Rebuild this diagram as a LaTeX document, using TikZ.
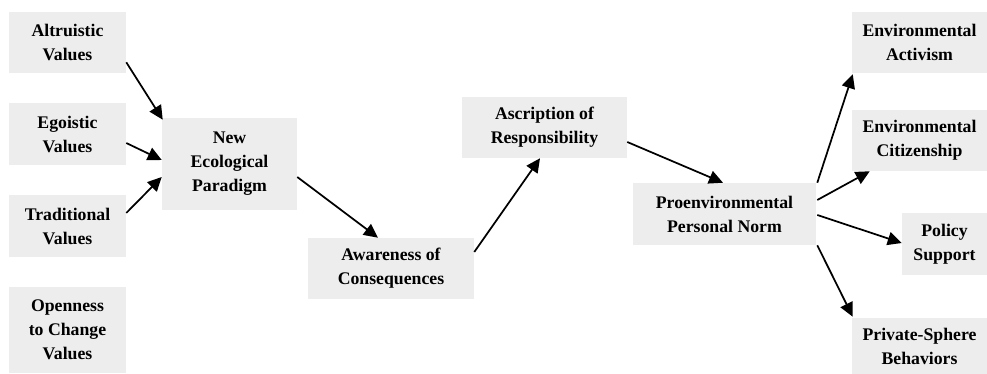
\documentclass[tikz,border=0pt]{standalone}
\usepackage{fontspec}
\setmainfont{Liberation Serif}
\usetikzlibrary{calc,arrows.meta}
\begin{document}
\begin{tikzpicture}[x=0.75pt,y=-0.75pt,
  box/.style={fill=boxgray,draw=none,inner sep=0pt,align=center,
    font=\fontsize{13.3}{18}\selectfont\bfseries},
  arr/.style={line width=1.3pt,-{Triangle[length=10.5pt,width=10pt]}}]
\definecolor{boxgray}{HTML}{EDEDED}
\useasboundingbox (0,0) rectangle (987,374);
\node[box,minimum width=87.75pt,minimum height=45.75pt] (alt) at (67.5,42.5) {Altruistic\\Values};
\node[box,minimum width=87.75pt,minimum height=46.5pt] (ego) at (67.5,134) {Egoistic\\Values};
\node[box,minimum width=87.75pt,minimum height=46.5pt] (trad) at (67.5,226) {Traditional\\Values};
\node[box,minimum width=87.75pt,minimum height=64.5pt] (open) at (67.5,330) {Openness\\to Change\\Values};
\node[box,minimum width=101.25pt,minimum height=69pt] (nep) at (229.5,164) {New\\Ecological\\Paradigm};
\node[box,minimum width=124.5pt,minimum height=45.75pt] (aware) at (391,268.5) {Awareness of\\Consequences};
\node[box,minimum width=123.75pt,minimum height=45.75pt] (ascr) at (544.5,127.5) {Ascription of\\Responsibility};
\node[box,minimum width=137.25pt,minimum height=46.5pt] (pn) at (724.5,214) {Proenvironmental\\Personal Norm};
\node[box,minimum width=101.25pt,minimum height=45.75pt] (act) at (919.5,42.5) {Environmental\\Activism};
\node[box,minimum width=101.25pt,minimum height=45.75pt] (cit) at (919.5,140.5) {Environmental\\Citizenship};
\node[box,minimum width=63.75pt,minimum height=46.5pt] (pol) at (944.5,244) {Policy\\Support};
\node[box,minimum width=101.25pt,minimum height=42pt] (priv) at (919.5,346) {Private-Sphere\\Behaviors};
\draw[arr] ($(alt.south east)+(0,-11)$) -- ($(nep.north west)+(1,2)$);
\draw[arr] ($(ego.east)+(0,9)$) -- ($(nep.west)+(0,-4)$);
\draw[arr] ($(trad.east)+(0,-13)$) -- ($(nep.west)+(0,13)$);
\draw[arr] ($(nep.east)+(0,13)$) -- ($(aware.north)+(-13,0)$);
\draw[arr] ($(aware.east)+(0,-16.5)$) -- ($(ascr.south)+(-4.5,0)$);
\draw[arr] ($(ascr.east)+(0,14.5)$) -- ($(pn.north)+(-1.5,0)$);
\draw[arr] ($(pn.north east)+(1,0)$) -- ($(act.south west)+(1,1)$);
\draw[arr] ($(pn.east)+(1,-14)$) -- ($(cit.south west)+(18,0)$);
\draw[arr] ($(pn.east)+(1,1)$) -- ($(pol.west)+(0,-1)$);
\draw[arr] ($(pn.south east)+(1,0)$) -- ($(priv.north west)+(1,-1)$);
\end{tikzpicture}
\end{document}
